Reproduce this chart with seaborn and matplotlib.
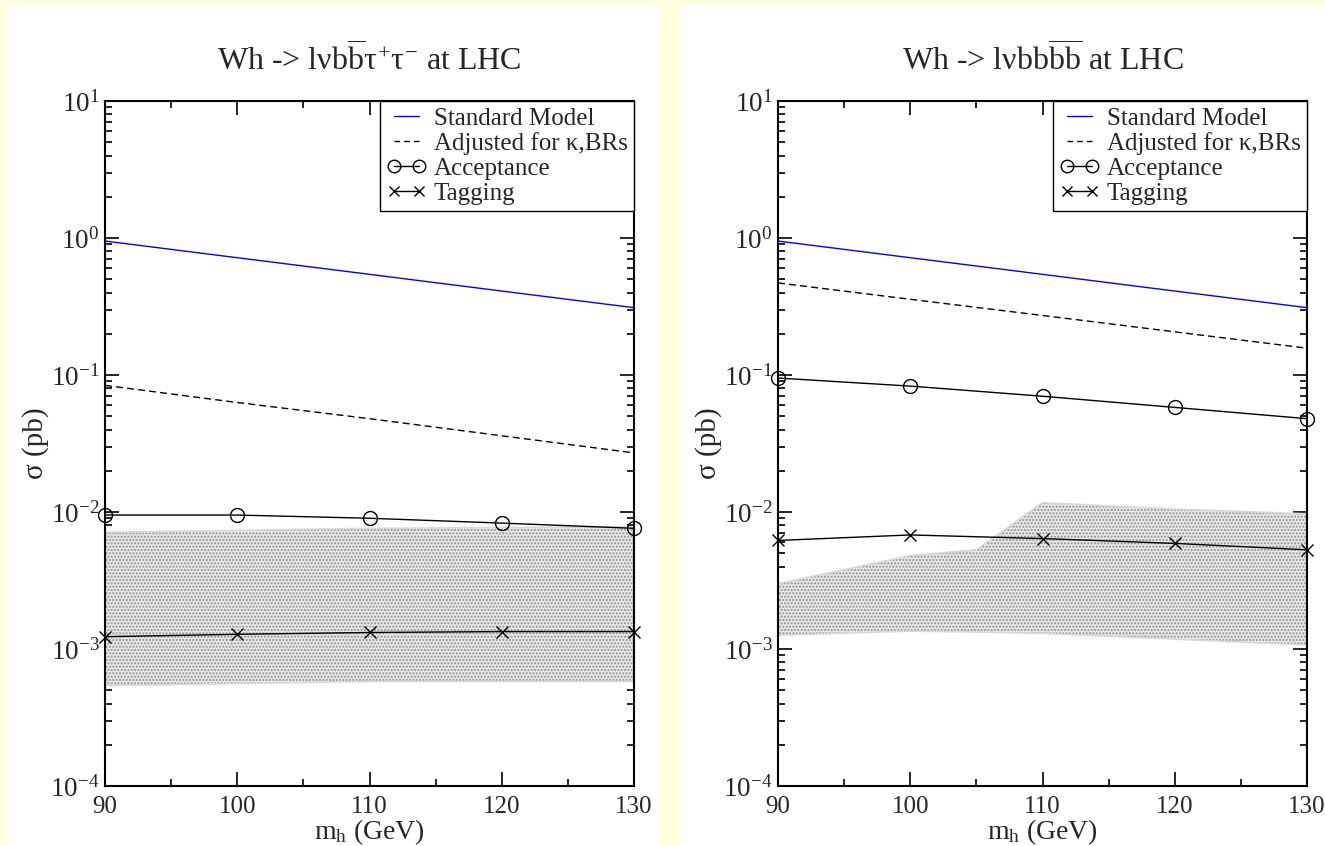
import matplotlib
matplotlib.use("Agg")
import matplotlib.pyplot as plt
from matplotlib.patches import Rectangle
from matplotlib.lines import Line2D
from matplotlib.ticker import MultipleLocator, LogLocator, NullFormatter
import seaborn as sns
import pandas as pd

# Higgs mass points (GeV)
mh = [90, 100, 110, 120, 130]

# Standard Model Wh cross section (pb), same in both channels
sm_xsec = [0.95, 0.718, 0.543, 0.410, 0.31]

# Wh -> l nu b bbar tau+ tau-
adj_tautau = [0.084, 0.063, 0.048, 0.036, 0.027]
acc_tautau = [0.0095, 0.0095, 0.0090, 0.0083, 0.0076]
tag_tautau = [0.00123, 0.00128, 0.00132, 0.00134, 0.00134]
band_tautau_mh = [90, 110, 130]
band_tautau_hi = [0.0071, 0.0076, 0.0078]
band_tautau_lo = [0.00054, 0.00058, 0.00058]

# Wh -> l nu b b bbar bbar
adj_bbbb = [0.47, 0.357, 0.272, 0.2065, 0.157]
acc_bbbb = [0.095, 0.083, 0.070, 0.058, 0.048]
tag_bbbb = [0.0062, 0.0068, 0.0064, 0.0059, 0.0053]
band_bbbb_mh = [90, 100, 105, 110, 120, 130]
band_bbbb_hi = [0.0030, 0.0048, 0.0053, 0.0117, 0.0105, 0.0097]
band_bbbb_lo = [0.00126, 0.00135, 0.00133, 0.0013, 0.00118, 0.00107]

titles = [r"Wh -> l$\nu$b$\overline{\mathrm{b}}\tau^{+}\tau^{-}$ at LHC",
          r"Wh -> l$\nu$bb$\overline{\mathrm{bb}}$ at LHC"]
legend_labels = ["Standard Model", "Adjusted for \u03ba,BRs", "Acceptance", "Tagging"]

sns.set_style("ticks")
plt.rcParams["font.family"] = ["Liberation Serif", "DejaVu Serif"]
plt.rcParams["mathtext.fontset"] = "custom"
plt.rcParams["mathtext.rm"] = "Liberation Serif"
plt.rcParams["mathtext.it"] = "Liberation Serif"
plt.rcParams["mathtext.bf"] = "Liberation Serif:bold"
plt.rcParams["axes.unicode_minus"] = False
plt.rcParams["hatch.linewidth"] = 1.0

fig = plt.figure(figsize=(13.25, 8.46), dpi=100, facecolor="#FFFFE0")
W, H = 1325.0, 846.0
# white panels behind each plot
fig.patches.append(Rectangle((7 / W, 0), (660 - 7) / W, (846 - 6) / H,
                             transform=fig.transFigure, facecolor="white",
                             edgecolor="none", zorder=-10))
fig.patches.append(Rectangle((680 / W, 0), (1325 - 680) / W, (846 - 6) / H,
                             transform=fig.transFigure, facecolor="white",
                             edgecolor="none", zorder=-10))

ax_w = 529 / W
ax_b = 1 - 786 / H
ax_h = (786 - 101) / H
axes = [fig.add_axes([105 / W, ax_b, ax_w, ax_h]),
        fig.add_axes([778 / W, ax_b, ax_w, ax_h])]

panels = [
    (adj_tautau, acc_tautau, tag_tautau, band_tautau_mh, band_tautau_hi, band_tautau_lo),
    (adj_bbbb, acc_bbbb, tag_bbbb, band_bbbb_mh, band_bbbb_hi, band_bbbb_lo),
]

for ax, title, (adj, acc, tag, bx, bhi, blo) in zip(axes, titles, panels):
    ax.set_facecolor("white")
    ax.set_yscale("log")
    ax.fill_between(bx, blo, bhi, facecolor="#e8e8e8", edgecolor="#8e8e8e",
                    hatch=".....", linewidth=0, zorder=1)
    ax.plot(bx, bhi, color="#d8d8d8", lw=1.2, zorder=1.5)
    ax.plot(bx, blo, color="#d8d8d8", lw=1.2, zorder=1.5)

    df = pd.DataFrame({"mh": mh, "sm": sm_xsec, "adj": adj, "acc": acc, "tag": tag})
    sns.lineplot(data=df, x="mh", y="sm", ax=ax, color="#0000ff", lw=1.0, zorder=3)
    sns.lineplot(data=df, x="mh", y="adj", ax=ax, color="black", lw=1.0,
                 linestyle=(0, (5, 3)), zorder=3)
    sns.lineplot(data=df, x="mh", y="acc", ax=ax, color="black", lw=1.0,
                 marker="o", markersize=10, markerfacecolor="none",
                 markeredgecolor="black", markeredgewidth=1.0, zorder=3,
                 clip_on=False)
    sns.lineplot(data=df, x="mh", y="tag", ax=ax, color="black", lw=1.0,
                 marker="x", markersize=8, markeredgecolor="black",
                 markeredgewidth=1.0, zorder=3, clip_on=False)

    ax.set_xlim(90, 130)
    ax.set_ylim(1e-4, 10)
    ax.xaxis.set_major_locator(MultipleLocator(10))
    ax.xaxis.set_minor_locator(MultipleLocator(5))
    ax.yaxis.set_major_locator(LogLocator(base=10, numticks=10))
    ax.yaxis.set_minor_locator(LogLocator(base=10, subs=range(2, 10), numticks=20))
    ax.yaxis.set_minor_formatter(NullFormatter())
    ax.tick_params(which="both", direction="in", top=True, right=True,
                   width=1.2, color="black")
    ax.tick_params(axis="x", labelsize=18)
    ax.tick_params(axis="y", labelsize=19.5)
    ax.tick_params(which="major", length=10)
    ax.tick_params(which="minor", length=5)
    ax.tick_params(axis="x", which="major", pad=7)
    ax.tick_params(axis="y", which="major", pad=4)
    for s in ax.spines.values():
        s.set_visible(True)
        s.set_color("black")
        s.set_linewidth(1.5)

    ax.set_title(title, fontsize=23, pad=22)
    ax.set_xlabel(r"m$_{\mathrm{h}}$ (GeV)", fontsize=20, labelpad=0)
    ax.set_ylabel("\u03c3 (pb)", fontsize=21, labelpad=1)

    handles = [
        Line2D([], [], color="#0000ff", lw=1.0),
        Line2D([], [], color="black", lw=1.0, linestyle=(0, (4, 3))),
        Line2D([], [], color="black", lw=1.0, marker="o", markersize=9,
               markerfacecolor="none"),
        Line2D([], [], color="black", lw=1.0, marker="x", markersize=7),
    ]
    leg = ax.legend(handles, legend_labels, loc="upper right", fontsize=18,
                    numpoints=2, handlelength=1.6, handletextpad=0.3,
                    borderaxespad=0, borderpad=0.25, labelspacing=0.1,
                    fancybox=False, framealpha=1, edgecolor="black")
    leg.get_frame().set_linewidth(1.0)
    leg.set_zorder(5)

fig.savefig("out.png", dpi=100, facecolor=fig.get_facecolor())
